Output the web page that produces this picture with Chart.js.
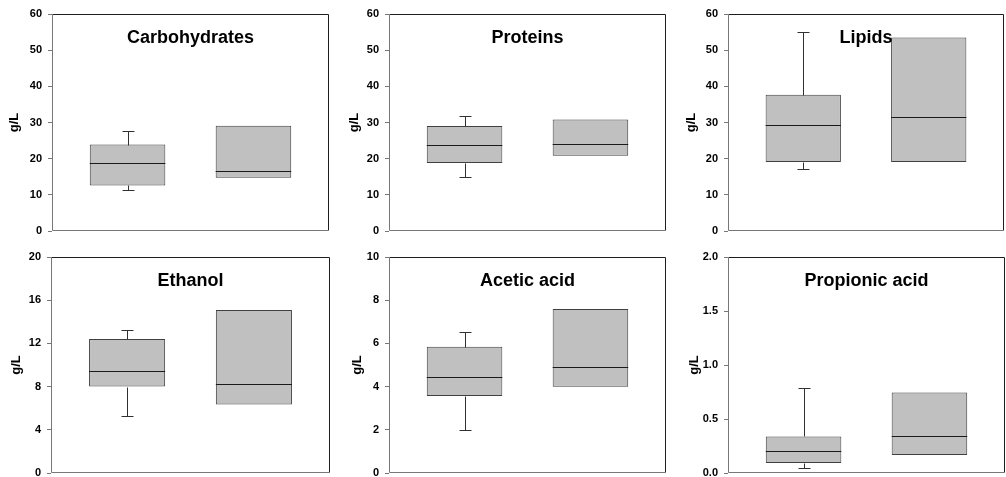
<!DOCTYPE html>
<html><head><meta charset="utf-8">
<script src="https://cdn.jsdelivr.net/npm/chart.js@4.4.1/dist/chart.umd.min.js"></script>
<style>
html,body{margin:0;padding:0;background:#fff;overflow:hidden;width:1006px;height:477px;position:relative}
.p{position:absolute}
</style></head><body>
<script>
// ---- data ----
const positions = [1, 2];                       // two groups per panel
const titles = ['Carbohydrates', 'Proteins', 'Lipids', 'Ethanol', 'Acetic acid', 'Propionic acid'];
const yMaxes = [60, 60, 60, 20, 10, 2];
const ySteps = [10, 10, 10, 4, 2, 0.5];
const yDecimals = [0, 0, 0, 0, 0, 1];
const whiskerLow = [[11.3, null], [14.8, null], [17.2, null], [5.3, null], [2.0, null], [0.043, null]];
const boxLow     = [[12.6, 14.7], [18.8, 20.8], [19.1, 19.1], [8.0, 6.35], [3.56, 3.99], [0.092, 0.166]];
const medians    = [[18.7, 16.6], [23.8, 24.1], [29.3, 31.6], [9.48, 8.25], [4.45, 4.92], [0.203, 0.341]];
const boxHigh    = [[23.9, 29.1], [29.0, 30.8], [37.7, 53.5], [12.4, 15.1], [5.84, 7.59], [0.338, 0.746]];
const whiskerHigh= [[27.6, null], [31.9, null], [55.1, null], [13.25, null], [6.52, null], [0.783, null]];
const yTitle = 'g/L';

// ---- layout (panel placement) ----
const panels = [
  {left:0,   top:0,   w:335, h:240, pad:{left:7,  right:6, top:14, bottom:9}, yw:45},
  {left:335, top:0,   w:335, h:240, pad:{left:12, right:4, top:14, bottom:9}, yw:42},
  {left:670, top:0,   w:336, h:240, pad:{left:14, right:2, top:14, bottom:9}, yw:44},
  {left:0,   top:240, w:335, h:240, pad:{left:9,  right:5, top:17, bottom:7}, yw:42},
  {left:335, top:240, w:335, h:240, pad:{left:15, right:4, top:17, bottom:7}, yw:39},
  {left:670, top:240, w:336, h:240, pad:{left:17, right:1, top:17, bottom:7}, yw:41}
];
const FONT = "'Liberation Sans', Arial, sans-serif";

const boxExtras = {
  id: 'boxExtras',
  afterDatasetsDraw(chart, args, o) {
    const {ctx, chartArea: a, scales: {y}} = chart;
    const meta = chart.getDatasetMeta(0);
    const px = v => Math.round(y.getPixelForValue(v)) + 0.5;
    ctx.save();
    ctx.lineWidth = 1;
    meta.data.forEach((bar, i) => {
      const cx = Math.round(bar.x) + 0.5;
      const w = bar.width;
      ctx.strokeStyle = '#303030';
      ctx.beginPath();
      if (o.hi[i] != null) {
        ctx.moveTo(cx, px(o.q3[i])); ctx.lineTo(cx, px(o.hi[i]));
        ctx.moveTo(cx - 6, px(o.hi[i])); ctx.lineTo(cx + 6, px(o.hi[i]));
      }
      if (o.lo[i] != null) {
        ctx.moveTo(cx, px(o.q1[i])); ctx.lineTo(cx, px(o.lo[i]));
        ctx.moveTo(cx - 6, px(o.lo[i])); ctx.lineTo(cx + 6, px(o.lo[i]));
      }
      ctx.stroke();
      ctx.strokeStyle = '#1a1a1a';
      ctx.beginPath();
      ctx.moveTo(bar.x - w / 2, px(o.med[i])); ctx.lineTo(bar.x + w / 2, px(o.med[i]));
      ctx.stroke();
    });
    // frame
    const L = Math.round(a.left) + 0.5, R = Math.round(a.right) - 0.5,
          T = Math.round(a.top) + 0.5, B = Math.round(a.bottom) - 0.5;
    ctx.strokeStyle = '#1e1e1e';
    ctx.beginPath(); ctx.moveTo(L, T); ctx.lineTo(R, T); ctx.lineTo(R, B); ctx.stroke();
    ctx.strokeStyle = '#777';
    ctx.beginPath(); ctx.moveTo(L, T); ctx.lineTo(L, B); ctx.lineTo(R, B); ctx.stroke();
    // title inside the plot
    ctx.fillStyle = '#000';
    ctx.font = "bold 18px " + FONT;
    ctx.textAlign = 'center'; ctx.textBaseline = 'middle';
    ctx.fillText(o.title, (a.left + a.right) / 2, a.top + 24);
    ctx.restore();
  }
};

panels.forEach((p, k) => {
  const div = document.createElement('div');
  div.className = 'p';
  div.style.cssText = `left:${p.left}px;top:${p.top}px;width:${p.w}px;height:${p.h}px`;
  const cv = document.createElement('canvas');
  div.appendChild(cv);
  document.body.appendChild(div);
  new Chart(cv, {
    type: 'bar',
    data: {
      datasets: [{
        data: positions.map((x, i) => ({x, y: [boxLow[k][i], boxHigh[k][i]]})),
        backgroundColor: '#c0c0c0',
        borderColor: '#404040',
        borderWidth: 1,
        borderSkipped: false,
        barPercentage: 0.6,
        categoryPercentage: 1
      }]
    },
    options: {
      responsive: true, maintainAspectRatio: false, animation: false,
      events: [],
      layout: {padding: p.pad},
      plugins: {
        legend: {display: false}, tooltip: {enabled: false},
        boxExtras: {title: titles[k], lo: whiskerLow[k], q1: boxLow[k], med: medians[k], q3: boxHigh[k], hi: whiskerHigh[k]}
      },
      scales: {
        x: {
          type: 'linear', min: 0.4, max: 2.6, offset: false,
          ticks: {display: false}, grid: {display: false}, border: {display: false},
          afterBuildTicks: s => { s.ticks = []; },
          afterFit: s => { s.height = 0; s.paddingLeft = 0; s.paddingRight = 0; }
        },
        y: {
          min: 0, max: yMaxes[k],
          ticks: {stepSize: ySteps[k], padding: 6, color: '#000',
                  font: {family: FONT, size: 11, weight: 'bold'},
                  callback: v => Number(v).toFixed(yDecimals[k])},
          grid: {drawOnChartArea: false, drawTicks: true, tickLength: 4, color: '#777'},
          border: {display: false},
          title: {display: true, text: yTitle, color: '#000', padding: 0,
                  font: {family: FONT, size: 13, weight: 'bold'}},
          afterFit: s => { s.width = p.yw; s.paddingTop = 0; s.paddingBottom = 0; }
        }
      }
    },
    plugins: [boxExtras]
  });
});
</script>
</body></html>
